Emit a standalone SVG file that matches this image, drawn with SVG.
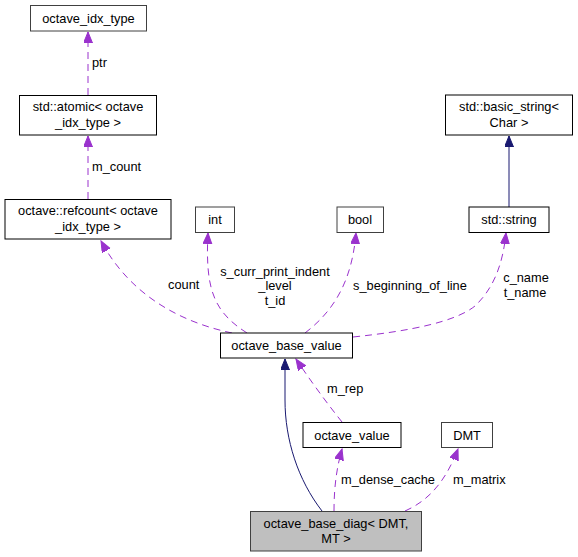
<svg xmlns="http://www.w3.org/2000/svg" width="578" height="557" viewBox="0 0 578 557">
<style>
.n{fill:#ffffff;stroke:#000000;stroke-width:1}
.g{fill:#ffffff;stroke:#404040;stroke-width:1}
.cur{fill:#bfbfbf;stroke:#404040;stroke-width:1}
text{font-family:"Liberation Sans",Arial,sans-serif;font-size:12.8px;fill:#000}
.c{text-anchor:middle}
.u{fill:none;stroke:#9a32cd;stroke-width:1;stroke-dasharray:7,5}
.i{fill:none;stroke:#191970;stroke-width:1}
</style>
<defs>
<marker id="ap" markerUnits="userSpaceOnUse" markerWidth="12" markerHeight="10" refX="11" refY="4.5" orient="auto"><path d="M0,0 L11,4.5 L0,9 z" fill="#9a32cd" stroke="#9a32cd"/></marker>
<marker id="an" markerUnits="userSpaceOnUse" markerWidth="12" markerHeight="10" refX="11" refY="4.5" orient="auto"><path d="M0,0 L11,4.5 L0,9 z" fill="#191970" stroke="#191970"/></marker>
</defs>
<rect width="578" height="557" fill="#ffffff"/>
<g id="edges">
<path class="u" d="M88,95 L88,32" marker-end="url(#ap)"/>
<path class="u" d="M88,199 L88,136" marker-end="url(#ap)"/>
<path class="u" d="M232,333 C180,322 130,295 101,241" marker-end="url(#ap)"/>
<path class="u" d="M247,333 C214,312 205,290 208,233" marker-end="url(#ap)"/>
<path class="u" d="M305,333 C335,310 352,280 356,233" marker-end="url(#ap)"/>
<path class="u" d="M353,337 C410,331 455,322 475,306 C495,287 503,262 506,233" marker-end="url(#ap)"/>
<path class="i" d="M509,207 L509,136" marker-end="url(#an)"/>
<path class="i" d="M322,511 C298,480 285,440 285,400 L285,359" marker-end="url(#an)"/>
<path class="u" d="M342,422 C326,402 310,380 296,359" marker-end="url(#ap)"/>
<path class="u" d="M334,511 C334,490 336,470 342,449" marker-end="url(#ap)"/>
<path class="u" d="M405,511 C430,500 446,480 458,449" marker-end="url(#ap)"/>
<text x="92" y="67">ptr</text>
<text x="92" y="171">m_count</text>
<text x="168" y="289">count</text>
<text class="c" x="275" y="275.5">s_curr_print_indent</text>
<text class="c" x="275" y="290">_level</text>
<text class="c" x="275" y="304.5">t_id</text>
<text x="353" y="289.5">s_beginning_of_line</text>
<text class="c" x="526" y="282">c_name</text>
<text class="c" x="525" y="296.5">t_name</text>
<text x="327" y="393">m_rep</text>
<text x="341" y="483.5">m_dense_cache</text>
<text x="453" y="483.5">m_matrix</text>
</g>
<g id="octave_idx_type"><rect class="g" x="30.5" y="5.5" width="116" height="25.5"/><text class="c" x="88.5" y="22.5">octave_idx_type</text></g>
<g id="std_atomic"><rect class="n" x="19.5" y="95.5" width="137" height="39.5"/><text class="c" x="88" y="111">std::atomic&lt; octave</text><text class="c" x="88" y="126.5">_idx_type &gt;</text></g>
<g id="refcount"><rect class="n" x="5" y="199.5" width="166" height="39.5"/><text class="c" x="88" y="215">octave::refcount&lt; octave</text><text class="c" x="88" y="230.5">_idx_type &gt;</text></g>
<g id="int"><rect class="g" x="195.5" y="207" width="39" height="25.5"/><text class="c" x="215" y="224">int</text></g>
<g id="bool"><rect class="g" x="337" y="207" width="46.5" height="25.5"/><text class="c" x="360" y="224">bool</text></g>
<g id="std_string"><rect class="n" x="469" y="207" width="80" height="25.5"/><text class="c" x="509" y="224">std::string</text></g>
<g id="basic_string"><rect class="n" x="445.5" y="95" width="127" height="40"/><text class="c" x="509" y="111">std::basic_string&lt;</text><text class="c" x="509" y="126.5">Char &gt;</text></g>
<g id="octave_base_value"><rect class="n" x="220.5" y="333" width="132" height="25"/><text class="c" x="286.5" y="350">octave_base_value</text></g>
<g id="octave_value"><rect class="n" x="303" y="422.5" width="98" height="25"/><text class="c" x="352" y="439.5">octave_value</text></g>
<g id="DMT"><rect class="g" x="441.5" y="422.5" width="51" height="25"/><text class="c" x="467" y="439.5">DMT</text></g>
<g id="octave_base_diag"><rect class="cur" x="250.5" y="511.5" width="171" height="39.5"/><text class="c" x="336" y="527.5">octave_base_diag&lt; DMT,</text><text class="c" x="336" y="542.5">MT &gt;</text></g>
</svg>
